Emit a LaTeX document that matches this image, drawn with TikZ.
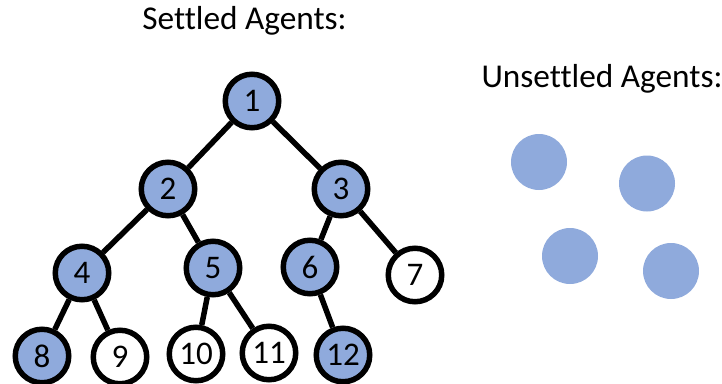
\documentclass[tikz,border=0pt]{standalone}
\usepackage{fontspec}
\setmainfont{Carlito}[Ligatures=CommonOff]
\definecolor{agentblue}{RGB}{143,170,220}
\begin{document}
\begin{tikzpicture}[x=1pt,y=-1pt]
		% Estilos para os nós
		\tikzstyle{settled} = [circle, minimum size=53.5pt, inner sep=0pt, line width=5.5pt, draw=black, fill=agentblue, font=\fontsize{33}{39}\selectfont]
		\tikzstyle{empty} = [settled, fill=white]
		\tikzstyle{unsettled} = [circle, minimum size=56pt, inner sep=0pt, fill=agentblue]
		\tikzstyle{title} = [anchor=base, inner sep=0pt, font=\fontsize{33.3}{39}\selectfont]
		\tikzstyle{edge} = [line width=5.5pt]
		\useasboundingbox (0,0) rectangle (722,383);
		% Títulos
		\node (settledtitle) [title] at (244.5,29) {Settled Agents:};
		\node (unsettledtitle) [title] at (602,87) {Unsettled Agents:};
		% Nós
		\node (n1) [settled] at (252,101) {1};
		\node (n2) [settled] at (168,189) {2};
		\node (n3) [settled] at (341,189) {3};
		\node (n4) [settled] at (82,273) {4};
		\node (n5) [settled] at (213,268) {5};
		\node (n6) [settled] at (310,267) {6};
		\node (n7) [empty] at (415,275) {7};
		\node (n8) [settled] at (42,356) {8};
		\node (n9) [empty] at (120,357) {9};
		\node (n10) [empty] at (196,354) {10};
		\node (n11) [empty] at (269,353) {11};
		\node (n12) [settled] at (343,355) {12};
		\node (u1) [unsettled] at (539,162) {};
		\node (u2) [unsettled] at (647,183.5) {};
		\node (u3) [unsettled] at (570,256) {};
		\node (u4) [unsettled] at (671,271) {};
		% Arestas
		\draw [edge] (n1) -- (n2);
		\draw [edge] (n1) -- (n3);
		\draw [edge] (n2) -- (n4);
		\draw [edge] (n2) -- (n5);
		\draw [edge] (n3) -- (n6);
		\draw [edge] (n3) -- (n7);
		\draw [edge] (n4) -- (n8);
		\draw [edge] (n4) -- (n9);
		\draw [edge] (n5) -- (n10);
		\draw [edge] (n5) -- (n11);
		\draw [edge] (n6) -- (n12);
	\end{tikzpicture}
\end{document}
